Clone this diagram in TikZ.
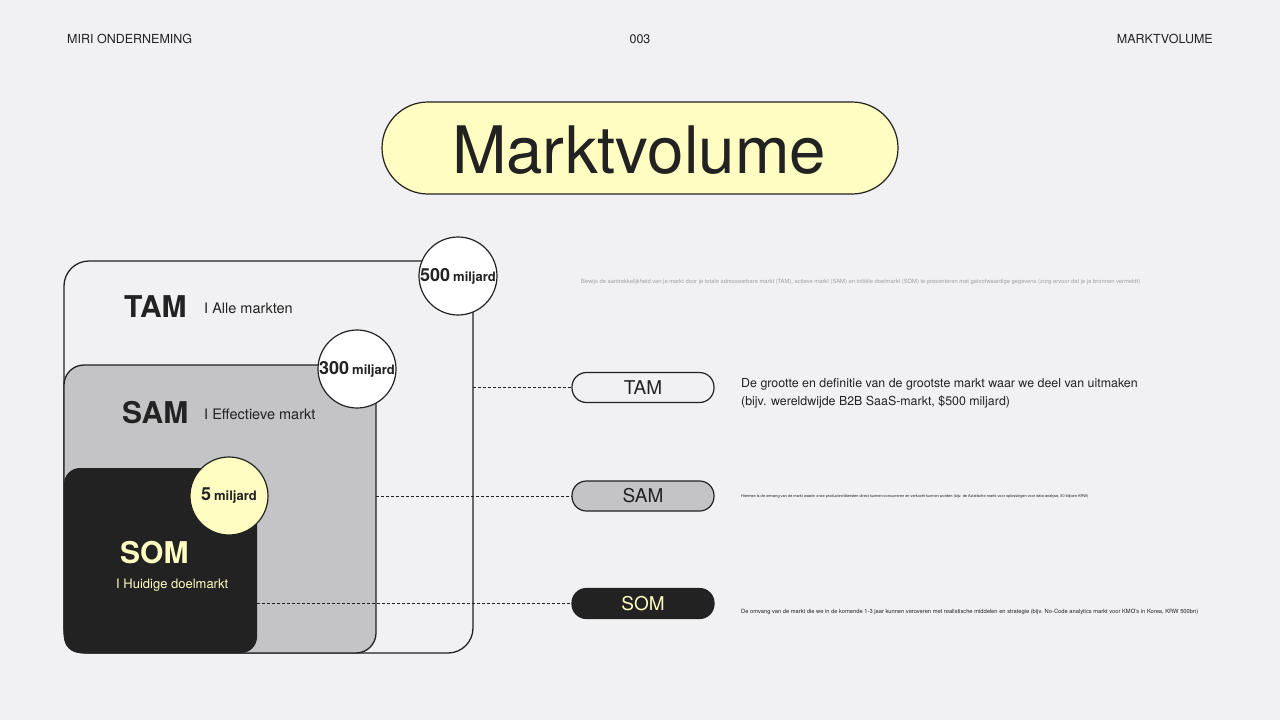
\documentclass[tikz,border=0pt]{standalone}
\usepackage{fontspec}
\setmainfont{TeX Gyre Heros}
\definecolor{bg}{HTML}{F1F0F2}
\definecolor{ink}{HTML}{222222}
\definecolor{cream}{HTML}{FFFDC2}
\definecolor{midgray}{HTML}{C4C3C5}
\definecolor{faint}{HTML}{A0A0A2}
\tikzset{
  hdr/.style={font=\fontsize{12.5}{15}\selectfont, text=ink, inner sep=0pt},
  bubble/.style={circle, draw=ink, line width=1.2pt, minimum size=78pt, inner sep=0pt, text=ink},
  pill/.style={draw=ink, line width=1.2pt, rounded corners=14.5pt, minimum width=142pt, minimum height=30pt, inner sep=0pt, font=\fontsize{19}{20}\selectfont},
  big/.style={font=\bfseries\fontsize{30}{32}\selectfont, inner sep=0pt, anchor=west},
  sub/.style={font=\fontsize{14.5}{16}\selectfont, inner sep=0pt, anchor=west},
  link/.style={ink, line width=0.8pt, dash pattern=on 3pt off 2pt},
  desc/.style={anchor=west, inner sep=0pt, text=ink}
}
\begin{document}
\begin{tikzpicture}[x=1pt,y=-1pt]
\fill[bg] (0,0) rectangle (1280,720);
\useasboundingbox (0,0) rectangle (1280,720);
% header
\node[hdr, anchor=west] (h1) at (67,39) {MIRI ONDERNEMING};
\node[hdr] (h2) at (640,39) {003};
\node[hdr, anchor=east] (h3) at (1213,39) {MARKTVOLUME};
% title
\node[draw=ink, line width=1.2pt, fill=cream, rounded corners=46pt, minimum width=516pt, minimum height=92pt] (title) at (640,148) {};
\node[inner sep=0pt, text=ink] (titletext) at (639,150) {\resizebox{374pt}{!}{\fontsize{74}{80}\selectfont Marktvolume}};
% boxes
\draw[ink, line width=1.3pt, fill=bg, rounded corners=25pt] (64,261) rectangle (473,653);
\draw[ink, line width=1.3pt, fill=midgray, rounded corners=20pt] (64,365) rectangle (376,653);
\fill[ink, rounded corners=16pt] (64,468) rectangle (257,653);
% labels
\node[big, text=ink] (tamlbl) at (124,307) {TAM};
\node[sub, text=ink] (tamsub) at (204,308) {I Alle markten};
\node[big, text=ink] (samlbl) at (122,413) {SAM};
\node[sub, text=ink] (samsub) at (204,414) {I Effectieve markt};
\node[big, text=cream] (somlbl) at (120,553) {SOM};
\node[sub, text=cream, font=\fontsize{13}{15}\selectfont] (somsub) at (116,585) {I Huidige doelmarkt};
% bubbles
\node[bubble, fill=white] (c500) at (458,276) {\bfseries\fontsize{18}{18}\selectfont 500\,{\fontsize{13}{14}\selectfont miljard}};
\node[bubble, fill=white] (c300) at (357,369) {\bfseries\fontsize{18}{18}\selectfont 300\,{\fontsize{13}{14}\selectfont miljard}};
\node[bubble, fill=cream] (c5) at (229,496) {\bfseries\fontsize{18}{18}\selectfont 5\,{\fontsize{13}{14}\selectfont miljard}};
% pills
\node[pill, fill=bg, text=ink] (tampill) at (643,387.5) {\raisebox{-2.5pt}{TAM}};
\node[pill, fill=midgray, text=ink] (sampill) at (643,496) {\raisebox{-2.5pt}{SAM}};
\node[pill, fill=ink, text=cream] (sompill) at (643,603.5) {\raisebox{-2.5pt}{SOM}};
% connectors
\coordinate (tamedge) at (473,387.5);
\coordinate (samedge) at (376,496);
\coordinate (somedge) at (257,603.5);
\draw[link] (tamedge) -- (tampill.west);
\draw[link] (samedge) -- (sampill.west);
\draw[link] (somedge) -- (sompill.west);
% descriptions
\node[desc, text=faint] (intro) at (581,282) {\resizebox{559pt}{!}{Bewijs de aantrekkelijkheid van je markt door je totale adresseerbare markt (TAM), actieve markt (SAM) en initiële doelmarkt (SOM) te presenteren met geloofwaardige gegevens (zorg ervoor dat je je bronnen vermeldt)}};
\node[desc, align=left, font=\fontsize{12.4}{18}\selectfont] (tamdesc) at (741,393) {De grootte en definitie van de grootste markt waar we deel van uitmaken\\(bijv. wereldwijde B2B SaaS-markt, \$500 miljard)};
\node[desc] (samdesc) at (741,497) {\resizebox{347pt}{!}{Hiermee is de omvang van de markt waarin onze producten/diensten direct kunnen concurreren en verkocht kunnen worden (bijv. de Aziatische markt voor oplossingen voor data-analyse, 50 biljoen KRW)}};
\node[desc] (somdesc) at (741,612) {\resizebox{457pt}{!}{De omvang van de markt die we in de komende 1-3 jaar kunnen veroveren met realistische middelen en strategie (bijv. No-Code analytics markt voor KMO's in Korea, KRW 500bn)}};
\end{tikzpicture}
\end{document}
